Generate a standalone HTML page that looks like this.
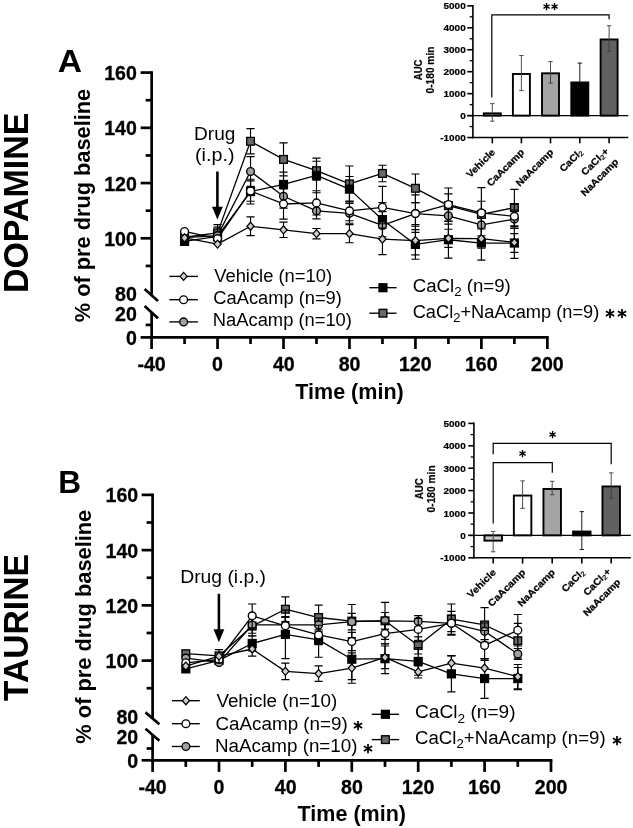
<!DOCTYPE html>
<html lang="en"><head><meta charset="utf-8"><title>Figure: Dopamine and Taurine time course</title>
<style>html,body{margin:0;padding:0;background:#fff}body{width:633px;height:828px;overflow:hidden}svg{display:block}text{font-family:"Liberation Sans", Arial, Helvetica, sans-serif;fill:#000}line{stroke:#000}</style>
</head><body>
<svg width="633" height="828" viewBox="0 0 633 828">
<rect width="633" height="828" fill="#fff"/>
<g id="panelA">
<g stroke="#000" stroke-width="2.7">
<line x1="151.65" y1="71.23" x2="151.65" y2="294.2" stroke-width="2.7"/>
<line x1="151.65" y1="312.4" x2="151.65" y2="338.75" stroke-width="2.7"/>
<line x1="144.6" y1="289" x2="158" y2="301" stroke-width="2.7"/>
<line x1="144.6" y1="306" x2="158" y2="318.2" stroke-width="2.7"/>
<line x1="140.65" y1="72.58" x2="151.65" y2="72.58" stroke-width="2.7"/>
<line x1="140.65" y1="127.82" x2="151.65" y2="127.82" stroke-width="2.7"/>
<line x1="140.65" y1="183.06" x2="151.65" y2="183.06" stroke-width="2.7"/>
<line x1="140.65" y1="238.3" x2="151.65" y2="238.3" stroke-width="2.7"/>
<line x1="145.65" y1="100.2" x2="151.65" y2="100.2" stroke-width="2.7"/>
<line x1="145.65" y1="155.44" x2="151.65" y2="155.44" stroke-width="2.7"/>
<line x1="145.65" y1="210.68" x2="151.65" y2="210.68" stroke-width="2.7"/>
<line x1="145.65" y1="265.92" x2="151.65" y2="265.92" stroke-width="2.7"/>
<line x1="145.65" y1="324.9" x2="151.65" y2="324.9" stroke-width="2.7"/>
<line x1="140.65" y1="337.4" x2="151.65" y2="337.4" stroke-width="2.7"/>
<line x1="150.3" y1="337.4" x2="548.7" y2="337.4" stroke-width="2.7"/>
<line x1="151.59" y1="337.4" x2="151.59" y2="349" stroke-width="2.7"/>
<line x1="217.55" y1="337.4" x2="217.55" y2="349" stroke-width="2.7"/>
<line x1="283.51" y1="337.4" x2="283.51" y2="349" stroke-width="2.7"/>
<line x1="349.47" y1="337.4" x2="349.47" y2="349" stroke-width="2.7"/>
<line x1="415.43" y1="337.4" x2="415.43" y2="349" stroke-width="2.7"/>
<line x1="481.39" y1="337.4" x2="481.39" y2="349" stroke-width="2.7"/>
<line x1="547.35" y1="337.4" x2="547.35" y2="349" stroke-width="2.7"/>
<line x1="184.57" y1="337.4" x2="184.57" y2="344" stroke-width="2.7"/>
<line x1="250.53" y1="337.4" x2="250.53" y2="344" stroke-width="2.7"/>
<line x1="316.49" y1="337.4" x2="316.49" y2="344" stroke-width="2.7"/>
<line x1="382.45" y1="337.4" x2="382.45" y2="344" stroke-width="2.7"/>
<line x1="448.41" y1="337.4" x2="448.41" y2="344" stroke-width="2.7"/>
<line x1="514.37" y1="337.4" x2="514.37" y2="344" stroke-width="2.7"/>
</g>
<text x="104.19" y="80.18" font-size="20.5" font-weight="bold" stroke="#000" stroke-width="0.3" textLength="32.67" lengthAdjust="spacingAndGlyphs">160</text>
<text x="104.19" y="135.42" font-size="20.5" font-weight="bold" stroke="#000" stroke-width="0.3" textLength="32.67" lengthAdjust="spacingAndGlyphs">140</text>
<text x="104.19" y="190.66" font-size="20.5" font-weight="bold" stroke="#000" stroke-width="0.3" textLength="32.67" lengthAdjust="spacingAndGlyphs">120</text>
<text x="104.19" y="245.9" font-size="20.5" font-weight="bold" stroke="#000" stroke-width="0.3" textLength="32.67" lengthAdjust="spacingAndGlyphs">100</text>
<text x="115.05" y="300.6" font-size="20.5" font-weight="bold" stroke="#000" stroke-width="0.3" textLength="21.78" lengthAdjust="spacingAndGlyphs">80</text>
<text x="115.05" y="320.5" font-size="20.5" font-weight="bold" stroke="#000" stroke-width="0.3" textLength="21.78" lengthAdjust="spacingAndGlyphs">20</text>
<text x="125.92" y="344.8" font-size="20.5" font-weight="bold" stroke="#000" stroke-width="0.3" textLength="10.89" lengthAdjust="spacingAndGlyphs">0</text>
<text x="137.45" y="371.2" font-size="20.5" font-weight="bold" stroke="#000" stroke-width="0.3" textLength="28.3" lengthAdjust="spacingAndGlyphs">-40</text>
<text x="212.12" y="371.2" font-size="20.5" font-weight="bold" stroke="#000" stroke-width="0.3" textLength="10.89" lengthAdjust="spacingAndGlyphs">0</text>
<text x="272.89" y="371.2" font-size="20.5" font-weight="bold" stroke="#000" stroke-width="0.3" textLength="21.78" lengthAdjust="spacingAndGlyphs">40</text>
<text x="338.7" y="371.2" font-size="20.5" font-weight="bold" stroke="#000" stroke-width="0.3" textLength="21.78" lengthAdjust="spacingAndGlyphs">80</text>
<text x="398.94" y="371.2" font-size="20.5" font-weight="bold" stroke="#000" stroke-width="0.3" textLength="32.67" lengthAdjust="spacingAndGlyphs">120</text>
<text x="464.9" y="371.2" font-size="20.5" font-weight="bold" stroke="#000" stroke-width="0.3" textLength="32.67" lengthAdjust="spacingAndGlyphs">160</text>
<text x="531.1" y="371.2" font-size="20.5" font-weight="bold" stroke="#000" stroke-width="0.3" textLength="32.67" lengthAdjust="spacingAndGlyphs">200</text>
<text x="295.28" y="399.1" font-size="21.3" font-weight="bold" textLength="108.44" lengthAdjust="spacingAndGlyphs">Time (min)</text>
<text transform="translate(89.9 321.7) rotate(-90)" x="-0.54" y="0" font-size="21.3" font-weight="bold" textLength="233.39" lengthAdjust="spacingAndGlyphs">% of pre drug baseline</text>
<text transform="translate(27.6 290.9) rotate(-90)" x="-2.21" y="0" font-size="34.6" font-weight="bold" textLength="180.4" lengthAdjust="spacingAndGlyphs">DOPAMINE</text>
<text x="57.76" y="72.3" font-size="32" font-weight="bold" textLength="24.25" lengthAdjust="spacingAndGlyphs">A</text>
<g stroke="#000">
<path d="M217.55 224.6V241.1M213.45 224.6h8.2M213.45 241.1h8.2M250.53 128.63V153.93M246.43 128.63h8.2M246.43 153.93h8.2M283.51 142.93V175.93M279.41 142.93h8.2M279.41 175.93h8.2M316.49 161.21V180.19M312.39 161.21h8.2M312.39 180.19h8.2M349.47 166.03V201.78M345.37 166.03h8.2M345.37 201.78h8.2M382.45 165.2V181.7M378.35 165.2h8.2M378.35 181.7h8.2M415.43 174V202.6M411.33 174h8.2M411.33 202.6h8.2M448.41 193.8V217.45M444.31 193.8h8.2M444.31 217.45h8.2M481.39 201.23V227.62M477.29 201.23h8.2M477.29 227.62h8.2M514.37 189.4V225.7M510.27 189.4h8.2M510.27 225.7h8.2" fill="none" stroke-width="1.15"/>
<path d="M184.57 237.25L217.55 232.85L250.53 141.28L283.51 159.43L316.49 170.7L349.47 183.9L382.45 173.45L415.43 188.3L448.41 205.62L481.39 214.43L514.37 207.55" fill="none" stroke-width="1.3" stroke-linejoin="round"/>
<rect x="180.72" y="233.4" width="7.7" height="7.7" fill="#696969" stroke-width="1.35"/>
<rect x="213.7" y="229" width="7.7" height="7.7" fill="#696969" stroke-width="1.35"/>
<rect x="246.68" y="137.43" width="7.7" height="7.7" fill="#696969" stroke-width="1.35"/>
<rect x="279.66" y="155.58" width="7.7" height="7.7" fill="#696969" stroke-width="1.35"/>
<rect x="312.64" y="166.85" width="7.7" height="7.7" fill="#696969" stroke-width="1.35"/>
<rect x="345.62" y="180.05" width="7.7" height="7.7" fill="#696969" stroke-width="1.35"/>
<rect x="378.6" y="169.6" width="7.7" height="7.7" fill="#696969" stroke-width="1.35"/>
<rect x="411.58" y="184.45" width="7.7" height="7.7" fill="#696969" stroke-width="1.35"/>
<rect x="444.56" y="201.78" width="7.7" height="7.7" fill="#696969" stroke-width="1.35"/>
<rect x="477.54" y="210.58" width="7.7" height="7.7" fill="#696969" stroke-width="1.35"/>
<rect x="510.52" y="203.7" width="7.7" height="7.7" fill="#696969" stroke-width="1.35"/>
<path d="M250.53 179.23V203.98M246.43 179.23h8.2M246.43 203.98h8.2M283.51 172.07V196.82M279.41 172.07h8.2M279.41 196.82h8.2M316.49 158.05V192.7M312.39 158.05h8.2M312.39 192.7h8.2M349.47 176.47V201.78M345.37 176.47h8.2M345.37 201.78h8.2M382.45 202.6V236.7M378.35 202.6h8.2M378.35 236.7h8.2M415.43 229.55V259.25M411.33 229.55h8.2M411.33 259.25h8.2M448.41 221.3V258.15M444.31 221.3h8.2M444.31 258.15h8.2M481.39 225.98V260.08M477.29 225.98h8.2M477.29 260.08h8.2M514.37 233.68V252.38M510.27 233.68h8.2M510.27 252.38h8.2" fill="none" stroke-width="1.15"/>
<path d="M184.57 241.38L217.55 236.43L250.53 191.6L283.51 184.45L316.49 175.38L349.47 189.12L382.45 219.65L415.43 244.4L448.41 239.73L481.39 243.03L514.37 243.03" fill="none" stroke-width="1.3" stroke-linejoin="round"/>
<rect x="179.97" y="236.78" width="9.2" height="9.2" fill="#000" stroke="none"/>
<rect x="212.95" y="231.83" width="9.2" height="9.2" fill="#000" stroke="none"/>
<rect x="245.93" y="187" width="9.2" height="9.2" fill="#000" stroke="none"/>
<rect x="278.91" y="179.85" width="9.2" height="9.2" fill="#000" stroke="none"/>
<rect x="311.89" y="170.78" width="9.2" height="9.2" fill="#000" stroke="none"/>
<rect x="344.87" y="184.53" width="9.2" height="9.2" fill="#000" stroke="none"/>
<rect x="377.85" y="215.05" width="9.2" height="9.2" fill="#000" stroke="none"/>
<rect x="410.83" y="239.8" width="9.2" height="9.2" fill="#000" stroke="none"/>
<rect x="443.81" y="235.13" width="9.2" height="9.2" fill="#000" stroke="none"/>
<rect x="476.79" y="238.43" width="9.2" height="9.2" fill="#000" stroke="none"/>
<rect x="509.77" y="238.43" width="9.2" height="9.2" fill="#000" stroke="none"/>
<path d="M217.55 227.08V244.13M213.45 227.08h8.2M213.45 244.13h8.2M250.53 156.68V186.38M246.43 156.68h8.2M246.43 186.38h8.2M283.51 184.45V208.1M279.41 184.45h8.2M279.41 208.1h8.2M316.49 202.88V218.83M312.39 202.88h8.2M312.39 218.83h8.2M349.47 203.42V223.22M345.37 203.42h8.2M345.37 223.22h8.2M382.45 211.68V239.18M378.35 211.68h8.2M378.35 239.18h8.2M415.43 202.6V224.6M411.33 202.6h8.2M411.33 224.6h8.2M448.41 207.55V224.05M444.31 207.55h8.2M444.31 224.05h8.2M481.39 213.88V235.88M477.29 213.88h8.2M477.29 235.88h8.2M514.37 210.03V228.18M510.27 210.03h8.2M510.27 228.18h8.2" fill="none" stroke-width="1.15"/>
<path d="M184.57 237.53L217.55 235.6L250.53 171.53L283.51 196.28L316.49 210.85L349.47 213.32L382.45 225.43L415.43 213.6L448.41 215.8L481.39 224.88L514.37 219.1" fill="none" stroke-width="1.3" stroke-linejoin="round"/>
<circle cx="184.57" cy="237.53" r="3.9" fill="#a0a0a0" stroke-width="1.35"/>
<circle cx="217.55" cy="235.6" r="3.9" fill="#a0a0a0" stroke-width="1.35"/>
<circle cx="250.53" cy="171.53" r="3.9" fill="#a0a0a0" stroke-width="1.35"/>
<circle cx="283.51" cy="196.28" r="3.9" fill="#a0a0a0" stroke-width="1.35"/>
<circle cx="316.49" cy="210.85" r="3.9" fill="#a0a0a0" stroke-width="1.35"/>
<circle cx="349.47" cy="213.32" r="3.9" fill="#a0a0a0" stroke-width="1.35"/>
<circle cx="382.45" cy="225.43" r="3.9" fill="#a0a0a0" stroke-width="1.35"/>
<circle cx="415.43" cy="213.6" r="3.9" fill="#a0a0a0" stroke-width="1.35"/>
<circle cx="448.41" cy="215.8" r="3.9" fill="#a0a0a0" stroke-width="1.35"/>
<circle cx="481.39" cy="224.88" r="3.9" fill="#a0a0a0" stroke-width="1.35"/>
<circle cx="514.37" cy="219.1" r="3.9" fill="#a0a0a0" stroke-width="1.35"/>
<path d="M250.53 180.88V201.23M246.43 180.88h8.2M246.43 201.23h8.2M283.51 188.85V219.1M279.41 188.85h8.2M279.41 219.1h8.2M316.49 190.78V214.97M312.39 190.78h8.2M312.39 214.97h8.2M349.47 200.95V220.75M345.37 200.95h8.2M345.37 220.75h8.2M382.45 186.38V228.18M378.35 186.38h8.2M378.35 228.18h8.2M415.43 194.9V232.3M411.33 194.9h8.2M411.33 232.3h8.2M448.41 188.03V221.03M444.31 188.03h8.2M444.31 221.03h8.2M481.39 187.61V238.21M477.29 187.61h8.2M477.29 238.21h8.2M514.37 204.25V228.45M510.27 204.25h8.2M510.27 228.45h8.2" fill="none" stroke-width="1.15"/>
<path d="M184.57 231.48L217.55 238.62L250.53 191.05L283.51 203.98L316.49 202.88L349.47 210.85L382.45 207.28L415.43 213.6L448.41 204.53L481.39 212.91L514.37 216.35" fill="none" stroke-width="1.3" stroke-linejoin="round"/>
<circle cx="184.57" cy="231.48" r="3.9" fill="#fff" stroke-width="1.35"/>
<circle cx="217.55" cy="238.62" r="3.9" fill="#fff" stroke-width="1.35"/>
<circle cx="250.53" cy="191.05" r="3.9" fill="#fff" stroke-width="1.35"/>
<circle cx="283.51" cy="203.98" r="3.9" fill="#fff" stroke-width="1.35"/>
<circle cx="316.49" cy="202.88" r="3.9" fill="#fff" stroke-width="1.35"/>
<circle cx="349.47" cy="210.85" r="3.9" fill="#fff" stroke-width="1.35"/>
<circle cx="382.45" cy="207.28" r="3.9" fill="#fff" stroke-width="1.35"/>
<circle cx="415.43" cy="213.6" r="3.9" fill="#fff" stroke-width="1.35"/>
<circle cx="448.41" cy="204.53" r="3.9" fill="#fff" stroke-width="1.35"/>
<circle cx="481.39" cy="212.91" r="3.9" fill="#fff" stroke-width="1.35"/>
<circle cx="514.37" cy="216.35" r="3.9" fill="#fff" stroke-width="1.35"/>
<path d="M250.53 216.9V235.6M246.43 216.9h8.2M246.43 235.6h8.2M283.51 222.12V237.52M279.41 222.12h8.2M279.41 237.52h8.2M316.49 228.45V238.9M312.39 228.45h8.2M312.39 238.9h8.2M349.47 224.6V242.75M345.37 224.6h8.2M345.37 242.75h8.2M382.45 223.78V254.58M378.35 223.78h8.2M378.35 254.58h8.2M415.43 226.25V254.85M411.33 226.25h8.2M411.33 254.85h8.2M448.41 229.28V247.43M444.31 229.28h8.2M444.31 247.43h8.2M481.39 229V248.25M477.29 229h8.2M477.29 248.25h8.2M514.37 226.53V258.43M510.27 226.53h8.2M510.27 258.43h8.2" fill="none" stroke-width="1.15"/>
<path d="M184.57 237.8L217.55 244.12L250.53 226.25L283.51 229.82L316.49 233.68L349.47 233.68L382.45 239.18L415.43 240.55L448.41 238.35L481.39 238.62L514.37 242.48" fill="none" stroke-width="1.3" stroke-linejoin="round"/>
<path d="M184.57 233.8L188.12 237.8L184.57 241.8L181.02 237.8Z" fill="#cdcdcd" stroke-width="1.25"/>
<path d="M217.55 240.12L221.1 244.12L217.55 248.12L214 244.12Z" fill="#cdcdcd" stroke-width="1.25"/>
<path d="M250.53 222.25L254.08 226.25L250.53 230.25L246.98 226.25Z" fill="#cdcdcd" stroke-width="1.25"/>
<path d="M283.51 225.82L287.06 229.82L283.51 233.82L279.96 229.82Z" fill="#cdcdcd" stroke-width="1.25"/>
<path d="M316.49 229.68L320.04 233.68L316.49 237.68L312.94 233.68Z" fill="#cdcdcd" stroke-width="1.25"/>
<path d="M349.47 229.68L353.02 233.68L349.47 237.68L345.92 233.68Z" fill="#cdcdcd" stroke-width="1.25"/>
<path d="M382.45 235.18L386 239.18L382.45 243.18L378.9 239.18Z" fill="#cdcdcd" stroke-width="1.25"/>
<path d="M415.43 236.55L418.98 240.55L415.43 244.55L411.88 240.55Z" fill="#cdcdcd" stroke-width="1.25"/>
<path d="M448.41 234.35L451.96 238.35L448.41 242.35L444.86 238.35Z" fill="#cdcdcd" stroke-width="1.25"/>
<path d="M481.39 234.62L484.94 238.62L481.39 242.62L477.84 238.62Z" fill="#cdcdcd" stroke-width="1.25"/>
<path d="M514.37 238.48L517.92 242.48L514.37 246.48L510.82 242.48Z" fill="#cdcdcd" stroke-width="1.25"/>
</g>
<line x1="217.4" y1="171.5" x2="217.4" y2="207.8" stroke-width="2.6"/>
<path d="M212 206.8L222.8 206.8L217.4 219.6Z" fill="#000"/>
<text x="194.08" y="139.5" font-size="18" textLength="41.31" lengthAdjust="spacingAndGlyphs">Drug</text>
<text x="195.02" y="160.8" font-size="18" textLength="39.47" lengthAdjust="spacingAndGlyphs">(i.p.)</text>
<g stroke="#000">
<line x1="169.3" y1="276.4" x2="197.9" y2="276.4" stroke-width="1.35"/>
<path d="M183.6 272.4L187.15 276.4L183.6 280.4L180.05 276.4Z" fill="#cdcdcd" stroke-width="1.25"/>
<line x1="169.3" y1="299.7" x2="197.9" y2="299.7" stroke-width="1.35"/>
<circle cx="183.6" cy="299.7" r="3.9" fill="#fff" stroke-width="1.35"/>
<line x1="169.3" y1="321.9" x2="197.9" y2="321.9" stroke-width="1.35"/>
<circle cx="183.6" cy="321.9" r="3.9" fill="#a0a0a0" stroke-width="1.35"/>
<line x1="369.3" y1="287.7" x2="396.6" y2="287.7" stroke-width="1.35"/>
<rect x="378.35" y="283.1" width="9.2" height="9.2" fill="#000" stroke="none"/>
<line x1="369.3" y1="313.2" x2="396.6" y2="313.2" stroke-width="1.35"/>
<rect x="379.1" y="309.35" width="7.7" height="7.7" fill="#696969" stroke-width="1.35"/>
</g>
<text x="214.21" y="281.7" font-size="18" textLength="117.81" lengthAdjust="spacingAndGlyphs">Vehicle (n=10)</text>
<text x="213.39" y="304" font-size="18" textLength="128.43" lengthAdjust="spacingAndGlyphs">CaAcamp (n=9)</text>
<text x="212.83" y="326.3" font-size="18" textLength="139.11" lengthAdjust="spacingAndGlyphs">NaAcamp (n=10)</text>
<text x="412.67" y="292" font-size="18" textLength="98.15" lengthAdjust="spacingAndGlyphs">CaCl<tspan font-size="12.8" dy="4.2">2</tspan><tspan dy="-4.2"> (n=9)</tspan></text>
<text x="412.69" y="317.8" font-size="18" textLength="186.6" lengthAdjust="spacingAndGlyphs">CaCl<tspan font-size="12.8" dy="4.2">2</tspan><tspan dy="-4.2">+NaAcamp (n=9)</tspan></text>
<text transform="translate(610.05 313.9) scale(0.860 0.838)" x="-7.1" y="5.31" font-size="17" font-weight="bold" font-family='"DejaVu Sans", "Liberation Sans", sans-serif'>∗</text>
<text transform="translate(622.15 313.9) scale(0.860 0.838)" x="-7.1" y="5.31" font-size="17" font-weight="bold" font-family='"DejaVu Sans", "Liberation Sans", sans-serif'>∗</text>
</g>
<g id="insetA">
<g stroke="#000" stroke-width="1.6">
<line x1="472.9" y1="5.05" x2="472.9" y2="138.35" stroke-width="1.6"/>
<line x1="472.1" y1="137.55" x2="628.3" y2="137.55" stroke-width="1.4"/>
<line x1="467.3" y1="137.55" x2="472.9" y2="137.55" stroke-width="1.6"/>
<line x1="467.3" y1="115.6" x2="472.9" y2="115.6" stroke-width="1.6"/>
<line x1="467.3" y1="93.65" x2="472.9" y2="93.65" stroke-width="1.6"/>
<line x1="467.3" y1="71.7" x2="472.9" y2="71.7" stroke-width="1.6"/>
<line x1="467.3" y1="49.75" x2="472.9" y2="49.75" stroke-width="1.6"/>
<line x1="467.3" y1="27.8" x2="472.9" y2="27.8" stroke-width="1.6"/>
<line x1="467.3" y1="5.85" x2="472.9" y2="5.85" stroke-width="1.6"/>
<line x1="469.7" y1="126.57" x2="472.9" y2="126.57" stroke-width="1.3"/>
<line x1="469.7" y1="104.62" x2="472.9" y2="104.62" stroke-width="1.3"/>
<line x1="469.7" y1="82.67" x2="472.9" y2="82.67" stroke-width="1.3"/>
<line x1="469.7" y1="60.72" x2="472.9" y2="60.72" stroke-width="1.3"/>
<line x1="469.7" y1="38.77" x2="472.9" y2="38.77" stroke-width="1.3"/>
<line x1="469.7" y1="16.82" x2="472.9" y2="16.82" stroke-width="1.3"/>
<line x1="492.3" y1="137.55" x2="492.3" y2="143.35" stroke-width="1.6"/>
<line x1="521.4" y1="137.55" x2="521.4" y2="143.35" stroke-width="1.6"/>
<line x1="550.5" y1="137.55" x2="550.5" y2="143.35" stroke-width="1.6"/>
<line x1="579.8" y1="137.55" x2="579.8" y2="143.35" stroke-width="1.6"/>
<line x1="609.1" y1="137.55" x2="609.1" y2="143.35" stroke-width="1.6"/>
</g>
<text x="440.27" y="141.05" font-size="9.3" font-weight="bold" stroke="#000" stroke-width="0.2" textLength="25.45" lengthAdjust="spacingAndGlyphs">-1000</text>
<text x="460.18" y="119.1" font-size="9.3" font-weight="bold" stroke="#000" stroke-width="0.2" textLength="5.53" lengthAdjust="spacingAndGlyphs">0</text>
<text x="443.56" y="97.15" font-size="9.3" font-weight="bold" stroke="#000" stroke-width="0.2" textLength="22.14" lengthAdjust="spacingAndGlyphs">1000</text>
<text x="443.56" y="75.2" font-size="9.3" font-weight="bold" stroke="#000" stroke-width="0.2" textLength="22.14" lengthAdjust="spacingAndGlyphs">2000</text>
<text x="443.56" y="53.25" font-size="9.3" font-weight="bold" stroke="#000" stroke-width="0.2" textLength="22.14" lengthAdjust="spacingAndGlyphs">3000</text>
<text x="443.56" y="31.3" font-size="9.3" font-weight="bold" stroke="#000" stroke-width="0.2" textLength="22.14" lengthAdjust="spacingAndGlyphs">4000</text>
<text x="443.56" y="9.35" font-size="9.3" font-weight="bold" stroke="#000" stroke-width="0.2" textLength="22.14" lengthAdjust="spacingAndGlyphs">5000</text>
<rect x="483.8" y="113.35" width="17" height="2.25" fill="#c8c8c8" stroke="#000" stroke-width="1.9"/>
<rect x="512.9" y="73.97" width="17" height="41.63" fill="#ffffff" stroke="#000" stroke-width="1.9"/>
<rect x="542" y="73.31" width="17" height="42.29" fill="#a4a4a4" stroke="#000" stroke-width="1.9"/>
<rect x="571.3" y="82.46" width="17" height="33.14" fill="#000000" stroke="#000" stroke-width="1.9"/>
<rect x="600.6" y="39.46" width="17" height="76.14" fill="#616161" stroke="#000" stroke-width="1.9"/>
<line x1="467.3" y1="115.6" x2="628.3" y2="115.6" stroke-width="1.4"/>
<path d="M492.3 103.62V121.18M490.1 103.62h4.4M490.1 121.18h4.4" fill="none" stroke="#3c3c3c" stroke-width="0.9"/>
<path d="M521.4 55.46V90.58M519.2 55.46h4.4M519.2 90.58h4.4" fill="none" stroke="#3c3c3c" stroke-width="0.9"/>
<path d="M550.5 61.6V83.11M548.3 61.6h4.4M548.3 83.11h4.4" fill="none" stroke="#3c3c3c" stroke-width="0.9"/>
<path d="M579.8 63.07V99.95M577.6 63.07h4.4M577.6 99.95h4.4" fill="none" stroke="#000" stroke-width="0.9"/>
<path d="M609.1 25.71V51.31M606.9 25.71h4.4M606.9 51.31h4.4" fill="none" stroke="#3c3c3c" stroke-width="0.9"/>
<path d="M491.8 97.6V14.9H609.1V19.2" fill="none" stroke="#000" stroke-width="1.2"/>
<text transform="translate(546.6 6.2) scale(0.633 0.640)" x="-7.1" y="5.31" font-size="17" font-weight="bold" font-family='"DejaVu Sans", "Liberation Sans", sans-serif'>∗</text>
<text transform="translate(554.6 6.2) scale(0.633 0.640)" x="-7.1" y="5.31" font-size="17" font-weight="bold" font-family='"DejaVu Sans", "Liberation Sans", sans-serif'>∗</text>
<text transform="translate(422.4 80) rotate(-90)" x="-0.24" y="0" font-size="10.2" font-weight="bold" stroke="#000" stroke-width="0.2" textLength="20.69" lengthAdjust="spacingAndGlyphs">AUC</text>
<text transform="translate(434.4 93) rotate(-90)" x="-0.41" y="0" font-size="10.2" font-weight="bold" stroke="#000" stroke-width="0.2" textLength="46.8" lengthAdjust="spacingAndGlyphs">0-180 min</text>
<text transform="translate(495.7 152.8) rotate(-45)" x="-36.07" y="0" font-size="9.6" font-weight="bold" stroke="#000" stroke-width="0.25" textLength="36.07" lengthAdjust="spacingAndGlyphs">Vehicle</text>
<text transform="translate(524.8 152.8) rotate(-45)" x="-48.27" y="0" font-size="9.6" font-weight="bold" stroke="#000" stroke-width="0.25" textLength="48.27" lengthAdjust="spacingAndGlyphs">CaAcamp</text>
<text transform="translate(553.9 152.8) rotate(-45)" x="-48.27" y="0" font-size="9.6" font-weight="bold" stroke="#000" stroke-width="0.25" textLength="48.27" lengthAdjust="spacingAndGlyphs">NaAcamp</text>
<text transform="translate(583.2 152.8) rotate(-45)" x="-27.96" y="0" font-size="9.6" font-weight="bold" stroke="#000" stroke-width="0.25" textLength="27.96" lengthAdjust="spacingAndGlyphs">CaCl<tspan font-size="6.8" font-weight="normal" dy="1.5">2</tspan></text>
<text transform="translate(609.2 152) rotate(-45)" x="-34.07" y="0" font-size="9.6" font-weight="bold" stroke="#000" stroke-width="0.25" textLength="34.07" lengthAdjust="spacingAndGlyphs">CaCl<tspan font-size="6.8" font-weight="normal" dy="1.5">2</tspan><tspan dy="-1.5">+</tspan></text>
<text transform="translate(619 162.5) rotate(-45)" x="-48.27" y="0" font-size="9.6" font-weight="bold" stroke="#000" stroke-width="0.25" textLength="48.27" lengthAdjust="spacingAndGlyphs">NaAcamp</text>
</g>
<g id="panelB">
<g stroke="#000" stroke-width="2.7">
<line x1="152.6" y1="493.53" x2="152.6" y2="717.6" stroke-width="2.7"/>
<line x1="152.6" y1="734.6" x2="152.6" y2="761.65" stroke-width="2.7"/>
<line x1="145.5" y1="712.4" x2="159.4" y2="724.2" stroke-width="2.7"/>
<line x1="145.5" y1="728.8" x2="159.4" y2="740.7" stroke-width="2.7"/>
<line x1="141.6" y1="494.88" x2="152.6" y2="494.88" stroke-width="2.7"/>
<line x1="141.6" y1="550.12" x2="152.6" y2="550.12" stroke-width="2.7"/>
<line x1="141.6" y1="605.36" x2="152.6" y2="605.36" stroke-width="2.7"/>
<line x1="141.6" y1="660.6" x2="152.6" y2="660.6" stroke-width="2.7"/>
<line x1="146.6" y1="522.5" x2="152.6" y2="522.5" stroke-width="2.7"/>
<line x1="146.6" y1="577.74" x2="152.6" y2="577.74" stroke-width="2.7"/>
<line x1="146.6" y1="632.98" x2="152.6" y2="632.98" stroke-width="2.7"/>
<line x1="146.6" y1="688.22" x2="152.6" y2="688.22" stroke-width="2.7"/>
<line x1="146.6" y1="748.5" x2="152.6" y2="748.5" stroke-width="2.7"/>
<line x1="141.6" y1="760.3" x2="152.6" y2="760.3" stroke-width="2.7"/>
<line x1="151.25" y1="760.3" x2="552.35" y2="760.3" stroke-width="2.7"/>
<line x1="152.6" y1="760.3" x2="152.6" y2="771.9" stroke-width="2.7"/>
<line x1="219" y1="760.3" x2="219" y2="771.9" stroke-width="2.7"/>
<line x1="285.4" y1="760.3" x2="285.4" y2="771.9" stroke-width="2.7"/>
<line x1="351.8" y1="760.3" x2="351.8" y2="771.9" stroke-width="2.7"/>
<line x1="418.2" y1="760.3" x2="418.2" y2="771.9" stroke-width="2.7"/>
<line x1="484.6" y1="760.3" x2="484.6" y2="771.9" stroke-width="2.7"/>
<line x1="551" y1="760.3" x2="551" y2="771.9" stroke-width="2.7"/>
<line x1="185.8" y1="760.3" x2="185.8" y2="766.9" stroke-width="2.7"/>
<line x1="252.2" y1="760.3" x2="252.2" y2="766.9" stroke-width="2.7"/>
<line x1="318.6" y1="760.3" x2="318.6" y2="766.9" stroke-width="2.7"/>
<line x1="385" y1="760.3" x2="385" y2="766.9" stroke-width="2.7"/>
<line x1="451.4" y1="760.3" x2="451.4" y2="766.9" stroke-width="2.7"/>
<line x1="517.8" y1="760.3" x2="517.8" y2="766.9" stroke-width="2.7"/>
</g>
<text x="105.59" y="502.48" font-size="20.5" font-weight="bold" stroke="#000" stroke-width="0.3" textLength="32.67" lengthAdjust="spacingAndGlyphs">160</text>
<text x="105.59" y="557.72" font-size="20.5" font-weight="bold" stroke="#000" stroke-width="0.3" textLength="32.67" lengthAdjust="spacingAndGlyphs">140</text>
<text x="105.59" y="612.96" font-size="20.5" font-weight="bold" stroke="#000" stroke-width="0.3" textLength="32.67" lengthAdjust="spacingAndGlyphs">120</text>
<text x="105.59" y="668.2" font-size="20.5" font-weight="bold" stroke="#000" stroke-width="0.3" textLength="32.67" lengthAdjust="spacingAndGlyphs">100</text>
<text x="116.45" y="723.8" font-size="20.5" font-weight="bold" stroke="#000" stroke-width="0.3" textLength="21.78" lengthAdjust="spacingAndGlyphs">80</text>
<text x="116.45" y="743.7" font-size="20.5" font-weight="bold" stroke="#000" stroke-width="0.3" textLength="21.78" lengthAdjust="spacingAndGlyphs">20</text>
<text x="127.32" y="767.8" font-size="20.5" font-weight="bold" stroke="#000" stroke-width="0.3" textLength="10.89" lengthAdjust="spacingAndGlyphs">0</text>
<text x="138.46" y="794.1" font-size="20.5" font-weight="bold" stroke="#000" stroke-width="0.3" textLength="28.3" lengthAdjust="spacingAndGlyphs">-40</text>
<text x="213.57" y="794.1" font-size="20.5" font-weight="bold" stroke="#000" stroke-width="0.3" textLength="10.89" lengthAdjust="spacingAndGlyphs">0</text>
<text x="274.78" y="794.1" font-size="20.5" font-weight="bold" stroke="#000" stroke-width="0.3" textLength="21.78" lengthAdjust="spacingAndGlyphs">40</text>
<text x="341.03" y="794.1" font-size="20.5" font-weight="bold" stroke="#000" stroke-width="0.3" textLength="21.78" lengthAdjust="spacingAndGlyphs">80</text>
<text x="401.71" y="794.1" font-size="20.5" font-weight="bold" stroke="#000" stroke-width="0.3" textLength="32.67" lengthAdjust="spacingAndGlyphs">120</text>
<text x="468.11" y="794.1" font-size="20.5" font-weight="bold" stroke="#000" stroke-width="0.3" textLength="32.67" lengthAdjust="spacingAndGlyphs">160</text>
<text x="534.75" y="794.1" font-size="20.5" font-weight="bold" stroke="#000" stroke-width="0.3" textLength="32.67" lengthAdjust="spacingAndGlyphs">200</text>
<text x="297.58" y="821.1" font-size="21.3" font-weight="bold" textLength="108.44" lengthAdjust="spacingAndGlyphs">Time (min)</text>
<text transform="translate(90.9 743.1) rotate(-90)" x="-0.55" y="0" font-size="21.3" font-weight="bold" textLength="233.89" lengthAdjust="spacingAndGlyphs">% of pre drug baseline</text>
<text transform="translate(28.1 700.8) rotate(-90)" x="-0.34" y="0" font-size="34.6" font-weight="bold" textLength="147.12" lengthAdjust="spacingAndGlyphs">TAURINE</text>
<text x="58.14" y="493.4" font-size="32" font-weight="bold" textLength="22.85" lengthAdjust="spacingAndGlyphs">B</text>
<g stroke="#000">
<path d="M252.2 616.41V635.74M248.1 616.41h8.2M248.1 635.74h8.2M285.4 596.8V621.66M281.3 596.8h8.2M281.3 621.66h8.2M318.6 605.08V629.94M314.5 605.08h8.2M314.5 629.94h8.2M351.8 604.53V637.68M347.7 604.53h8.2M347.7 637.68h8.2M385 602.32V639.33M380.9 602.32h8.2M380.9 639.33h8.2M418.2 636.85V653.97M414.1 636.85h8.2M414.1 653.97h8.2M451.4 603.98V634.36M447.3 603.98h8.2M447.3 634.36h8.2M484.6 607.57V642.37M480.5 607.57h8.2M480.5 642.37h8.2M517.8 623.31V658.11M513.7 623.31h8.2M513.7 658.11h8.2" fill="none" stroke-width="1.15"/>
<path d="M185.8 653.7L219 655.9L252.2 626.08L285.4 609.23L318.6 617.51L351.8 621.1L385 620.83L418.2 645.41L451.4 619.17L484.6 624.97L517.8 640.71" fill="none" stroke-width="1.3" stroke-linejoin="round"/>
<rect x="181.95" y="649.85" width="7.7" height="7.7" fill="#696969" stroke-width="1.35"/>
<rect x="215.15" y="652.05" width="7.7" height="7.7" fill="#696969" stroke-width="1.35"/>
<rect x="248.35" y="622.23" width="7.7" height="7.7" fill="#696969" stroke-width="1.35"/>
<rect x="281.55" y="605.38" width="7.7" height="7.7" fill="#696969" stroke-width="1.35"/>
<rect x="314.75" y="613.66" width="7.7" height="7.7" fill="#696969" stroke-width="1.35"/>
<rect x="347.95" y="617.25" width="7.7" height="7.7" fill="#696969" stroke-width="1.35"/>
<rect x="381.15" y="616.98" width="7.7" height="7.7" fill="#696969" stroke-width="1.35"/>
<rect x="414.35" y="641.56" width="7.7" height="7.7" fill="#696969" stroke-width="1.35"/>
<rect x="447.55" y="615.32" width="7.7" height="7.7" fill="#696969" stroke-width="1.35"/>
<rect x="480.75" y="621.12" width="7.7" height="7.7" fill="#696969" stroke-width="1.35"/>
<rect x="513.95" y="636.86" width="7.7" height="7.7" fill="#696969" stroke-width="1.35"/>
<path d="M252.2 636.02V650.93M248.1 636.02h8.2M248.1 650.93h8.2M285.4 610.06V658.67M281.3 610.06h8.2M281.3 658.67h8.2M318.6 622.48V657.29M314.5 622.48h8.2M314.5 657.29h8.2M351.8 638.78V679.66M347.7 638.78h8.2M347.7 679.66h8.2M385 643.75V673.58M380.9 643.75h8.2M380.9 673.58h8.2M418.2 647.62V675.24M414.1 647.62h8.2M414.1 675.24h8.2M451.4 655.9V691.81M447.3 655.9h8.2M447.3 691.81h8.2M484.6 658.67V698.44M480.5 658.67h8.2M480.5 698.44h8.2M517.8 667.5V689.6M513.7 667.5h8.2M513.7 689.6h8.2" fill="none" stroke-width="1.15"/>
<path d="M185.8 668.89L219 660.32L252.2 643.48L285.4 634.36L318.6 639.88L351.8 659.22L385 658.67L418.2 661.43L451.4 673.86L484.6 678.55L517.8 678.55" fill="none" stroke-width="1.3" stroke-linejoin="round"/>
<rect x="181.2" y="664.29" width="9.2" height="9.2" fill="#000" stroke="none"/>
<rect x="214.4" y="655.72" width="9.2" height="9.2" fill="#000" stroke="none"/>
<rect x="247.6" y="638.88" width="9.2" height="9.2" fill="#000" stroke="none"/>
<rect x="280.8" y="629.76" width="9.2" height="9.2" fill="#000" stroke="none"/>
<rect x="314" y="635.28" width="9.2" height="9.2" fill="#000" stroke="none"/>
<rect x="347.2" y="654.62" width="9.2" height="9.2" fill="#000" stroke="none"/>
<rect x="380.4" y="654.07" width="9.2" height="9.2" fill="#000" stroke="none"/>
<rect x="413.6" y="656.83" width="9.2" height="9.2" fill="#000" stroke="none"/>
<rect x="446.8" y="669.26" width="9.2" height="9.2" fill="#000" stroke="none"/>
<rect x="480" y="673.95" width="9.2" height="9.2" fill="#000" stroke="none"/>
<rect x="513.2" y="673.95" width="9.2" height="9.2" fill="#000" stroke="none"/>
<path d="M252.2 616.68V633.26M248.1 616.68h8.2M248.1 633.26h8.2M285.4 616.68V633.26M281.3 616.68h8.2M281.3 633.26h8.2M318.6 618.07V631.88M314.5 618.07h8.2M314.5 631.88h8.2M351.8 613.37V629.94M347.7 613.37h8.2M347.7 629.94h8.2M385 612.54V629.11M380.9 612.54h8.2M380.9 629.11h8.2M418.2 615.58V627.18M414.1 615.58h8.2M414.1 627.18h8.2M451.4 615.03V631.6M447.3 615.03h8.2M447.3 631.6h8.2M484.6 623.04V639.61M480.5 623.04h8.2M480.5 639.61h8.2M517.8 648.45V659.5M513.7 648.45h8.2M513.7 659.5h8.2" fill="none" stroke-width="1.15"/>
<path d="M185.8 658.11L219 662.4L252.2 624.97L285.4 624.97L318.6 624.97L351.8 621.66L385 620.83L418.2 621.38L451.4 623.31L484.6 631.32L517.8 653.97" fill="none" stroke-width="1.3" stroke-linejoin="round"/>
<circle cx="185.8" cy="658.11" r="3.9" fill="#a0a0a0" stroke-width="1.35"/>
<circle cx="219" cy="662.4" r="3.9" fill="#a0a0a0" stroke-width="1.35"/>
<circle cx="252.2" cy="624.97" r="3.9" fill="#a0a0a0" stroke-width="1.35"/>
<circle cx="285.4" cy="624.97" r="3.9" fill="#a0a0a0" stroke-width="1.35"/>
<circle cx="318.6" cy="624.97" r="3.9" fill="#a0a0a0" stroke-width="1.35"/>
<circle cx="351.8" cy="621.66" r="3.9" fill="#a0a0a0" stroke-width="1.35"/>
<circle cx="385" cy="620.83" r="3.9" fill="#a0a0a0" stroke-width="1.35"/>
<circle cx="418.2" cy="621.38" r="3.9" fill="#a0a0a0" stroke-width="1.35"/>
<circle cx="451.4" cy="623.31" r="3.9" fill="#a0a0a0" stroke-width="1.35"/>
<circle cx="484.6" cy="631.32" r="3.9" fill="#a0a0a0" stroke-width="1.35"/>
<circle cx="517.8" cy="653.97" r="3.9" fill="#a0a0a0" stroke-width="1.35"/>
<path d="M252.2 603.98V627.73M248.1 603.98h8.2M248.1 627.73h8.2M285.4 617.51V634.08M281.3 617.51h8.2M281.3 634.08h8.2M318.6 625.25V644.58M314.5 625.25h8.2M314.5 644.58h8.2M351.8 632.43V650.66M347.7 632.43h8.2M347.7 650.66h8.2M385 623.04V644.03M380.9 623.04h8.2M380.9 644.03h8.2M418.2 618.34V640.44M414.1 618.34h8.2M414.1 640.44h8.2M451.4 611.44V635.19M447.3 611.44h8.2M447.3 635.19h8.2M484.6 630.49V660.32M480.5 630.49h8.2M480.5 660.32h8.2M517.8 614.47V645.96M513.7 614.47h8.2M513.7 645.96h8.2" fill="none" stroke-width="1.15"/>
<path d="M185.8 662.81L219 659.5L252.2 615.86L285.4 625.8L318.6 634.91L351.8 641.54L385 633.53L418.2 629.39L451.4 623.31L484.6 645.41L517.8 630.22" fill="none" stroke-width="1.3" stroke-linejoin="round"/>
<circle cx="185.8" cy="662.81" r="3.9" fill="#fff" stroke-width="1.35"/>
<circle cx="219" cy="659.5" r="3.9" fill="#fff" stroke-width="1.35"/>
<circle cx="252.2" cy="615.86" r="3.9" fill="#fff" stroke-width="1.35"/>
<circle cx="285.4" cy="625.8" r="3.9" fill="#fff" stroke-width="1.35"/>
<circle cx="318.6" cy="634.91" r="3.9" fill="#fff" stroke-width="1.35"/>
<circle cx="351.8" cy="641.54" r="3.9" fill="#fff" stroke-width="1.35"/>
<circle cx="385" cy="633.53" r="3.9" fill="#fff" stroke-width="1.35"/>
<circle cx="418.2" cy="629.39" r="3.9" fill="#fff" stroke-width="1.35"/>
<circle cx="451.4" cy="623.31" r="3.9" fill="#fff" stroke-width="1.35"/>
<circle cx="484.6" cy="645.41" r="3.9" fill="#fff" stroke-width="1.35"/>
<circle cx="517.8" cy="630.22" r="3.9" fill="#fff" stroke-width="1.35"/>
<path d="M219 649.55V662.81M214.9 649.55h8.2M214.9 662.81h8.2M252.2 641.82V656.18M248.1 641.82h8.2M248.1 656.18h8.2M285.4 663.09V679.66M281.3 663.09h8.2M281.3 679.66h8.2M318.6 665.85V681.32M314.5 665.85h8.2M314.5 681.32h8.2M351.8 652.87V683.25M347.7 652.87h8.2M347.7 683.25h8.2M385 645.96V668.61M380.9 645.96h8.2M380.9 668.61h8.2M418.2 665.85V678M414.1 665.85h8.2M414.1 678h8.2M451.4 655.63V670.54M447.3 655.63h8.2M447.3 670.54h8.2M484.6 658.94V677.17M480.5 658.94h8.2M480.5 677.17h8.2M517.8 664.47V688.77M513.7 664.47h8.2M513.7 688.77h8.2" fill="none" stroke-width="1.15"/>
<path d="M185.8 666.12L219 656.18L252.2 649L285.4 671.37L318.6 673.58L351.8 668.06L385 657.29L418.2 671.92L451.4 663.09L484.6 668.06L517.8 676.62" fill="none" stroke-width="1.3" stroke-linejoin="round"/>
<path d="M185.8 662.12L189.35 666.12L185.8 670.12L182.25 666.12Z" fill="#cdcdcd" stroke-width="1.25"/>
<path d="M219 652.18L222.55 656.18L219 660.18L215.45 656.18Z" fill="#cdcdcd" stroke-width="1.25"/>
<path d="M252.2 645L255.75 649L252.2 653L248.65 649Z" fill="#cdcdcd" stroke-width="1.25"/>
<path d="M285.4 667.37L288.95 671.37L285.4 675.37L281.85 671.37Z" fill="#cdcdcd" stroke-width="1.25"/>
<path d="M318.6 669.58L322.15 673.58L318.6 677.58L315.05 673.58Z" fill="#cdcdcd" stroke-width="1.25"/>
<path d="M351.8 664.06L355.35 668.06L351.8 672.06L348.25 668.06Z" fill="#cdcdcd" stroke-width="1.25"/>
<path d="M385 653.29L388.55 657.29L385 661.29L381.45 657.29Z" fill="#cdcdcd" stroke-width="1.25"/>
<path d="M418.2 667.92L421.75 671.92L418.2 675.92L414.65 671.92Z" fill="#cdcdcd" stroke-width="1.25"/>
<path d="M451.4 659.09L454.95 663.09L451.4 667.09L447.85 663.09Z" fill="#cdcdcd" stroke-width="1.25"/>
<path d="M484.6 664.06L488.15 668.06L484.6 672.06L481.05 668.06Z" fill="#cdcdcd" stroke-width="1.25"/>
<path d="M517.8 672.62L521.35 676.62L517.8 680.62L514.25 676.62Z" fill="#cdcdcd" stroke-width="1.25"/>
</g>
<line x1="218.9" y1="593.8" x2="218.9" y2="630.2" stroke-width="2.6"/>
<path d="M213.5 629.2L224.3 629.2L218.9 642.2Z" fill="#000"/>
<text x="180.2" y="582.7" font-size="18" textLength="85.86" lengthAdjust="spacingAndGlyphs">Drug (i.p.)</text>
<g stroke="#000">
<line x1="172" y1="700.7" x2="199.8" y2="700.7" stroke-width="1.35"/>
<path d="M185.9 696.7L189.45 700.7L185.9 704.7L182.35 700.7Z" fill="#cdcdcd" stroke-width="1.25"/>
<line x1="172" y1="723.7" x2="199.8" y2="723.7" stroke-width="1.35"/>
<circle cx="185.9" cy="723.7" r="3.9" fill="#fff" stroke-width="1.35"/>
<line x1="172" y1="746.5" x2="199.8" y2="746.5" stroke-width="1.35"/>
<circle cx="185.9" cy="746.5" r="3.9" fill="#a0a0a0" stroke-width="1.35"/>
<line x1="371.7" y1="714.3" x2="399.1" y2="714.3" stroke-width="1.35"/>
<rect x="380.8" y="709.7" width="9.2" height="9.2" fill="#000" stroke="none"/>
<line x1="371.7" y1="739.6" x2="399.1" y2="739.6" stroke-width="1.35"/>
<rect x="381.55" y="735.75" width="7.7" height="7.7" fill="#696969" stroke-width="1.35"/>
</g>
<text x="216.41" y="707.1" font-size="18" textLength="120.74" lengthAdjust="spacingAndGlyphs">Vehicle (n=10)</text>
<text x="215.56" y="729.9" font-size="18" textLength="132.19" lengthAdjust="spacingAndGlyphs">CaAcamp (n=9)</text>
<text x="215" y="752" font-size="18" textLength="142.47" lengthAdjust="spacingAndGlyphs">NaAcamp (n=10)</text>
<text x="415.04" y="718.4" font-size="18" textLength="100.5" lengthAdjust="spacingAndGlyphs">CaCl<tspan font-size="12.8" dy="4.2">2</tspan><tspan dy="-4.2"> (n=9)</tspan></text>
<text x="415.07" y="743.5" font-size="18" textLength="190.54" lengthAdjust="spacingAndGlyphs">CaCl<tspan font-size="12.8" dy="4.2">2</tspan><tspan dy="-4.2">+NaAcamp (n=9)</tspan></text>
<text transform="translate(358.3 725.8) scale(0.860 0.838)" x="-7.1" y="5.31" font-size="17" font-weight="bold" font-family='"DejaVu Sans", "Liberation Sans", sans-serif'>∗</text>
<text transform="translate(367.8 748.2) scale(0.860 0.838)" x="-7.1" y="5.31" font-size="17" font-weight="bold" font-family='"DejaVu Sans", "Liberation Sans", sans-serif'>∗</text>
<text transform="translate(616.7 740.4) scale(0.860 0.838)" x="-7.1" y="5.31" font-size="17" font-weight="bold" font-family='"DejaVu Sans", "Liberation Sans", sans-serif'>∗</text>
</g>
<g id="insetB">
<g stroke="#000" stroke-width="1.6">
<line x1="473.9" y1="422.6" x2="473.9" y2="558.6" stroke-width="1.6"/>
<line x1="473.1" y1="557.8" x2="630.8" y2="557.8" stroke-width="1.4"/>
<line x1="468.3" y1="557.8" x2="473.9" y2="557.8" stroke-width="1.6"/>
<line x1="468.3" y1="535.4" x2="473.9" y2="535.4" stroke-width="1.6"/>
<line x1="468.3" y1="513" x2="473.9" y2="513" stroke-width="1.6"/>
<line x1="468.3" y1="490.6" x2="473.9" y2="490.6" stroke-width="1.6"/>
<line x1="468.3" y1="468.2" x2="473.9" y2="468.2" stroke-width="1.6"/>
<line x1="468.3" y1="445.8" x2="473.9" y2="445.8" stroke-width="1.6"/>
<line x1="468.3" y1="423.4" x2="473.9" y2="423.4" stroke-width="1.6"/>
<line x1="470.7" y1="546.6" x2="473.9" y2="546.6" stroke-width="1.3"/>
<line x1="470.7" y1="524.2" x2="473.9" y2="524.2" stroke-width="1.3"/>
<line x1="470.7" y1="501.8" x2="473.9" y2="501.8" stroke-width="1.3"/>
<line x1="470.7" y1="479.4" x2="473.9" y2="479.4" stroke-width="1.3"/>
<line x1="470.7" y1="457" x2="473.9" y2="457" stroke-width="1.3"/>
<line x1="470.7" y1="434.6" x2="473.9" y2="434.6" stroke-width="1.3"/>
<line x1="493.2" y1="557.8" x2="493.2" y2="563.6" stroke-width="1.6"/>
<line x1="522.6" y1="557.8" x2="522.6" y2="563.6" stroke-width="1.6"/>
<line x1="552.2" y1="557.8" x2="552.2" y2="563.6" stroke-width="1.6"/>
<line x1="581.8" y1="557.8" x2="581.8" y2="563.6" stroke-width="1.6"/>
<line x1="611.2" y1="557.8" x2="611.2" y2="563.6" stroke-width="1.6"/>
</g>
<text x="440.27" y="561.3" font-size="9.3" font-weight="bold" stroke="#000" stroke-width="0.2" textLength="25.45" lengthAdjust="spacingAndGlyphs">-1000</text>
<text x="460.18" y="538.9" font-size="9.3" font-weight="bold" stroke="#000" stroke-width="0.2" textLength="5.53" lengthAdjust="spacingAndGlyphs">0</text>
<text x="443.56" y="516.5" font-size="9.3" font-weight="bold" stroke="#000" stroke-width="0.2" textLength="22.14" lengthAdjust="spacingAndGlyphs">1000</text>
<text x="443.56" y="494.1" font-size="9.3" font-weight="bold" stroke="#000" stroke-width="0.2" textLength="22.14" lengthAdjust="spacingAndGlyphs">2000</text>
<text x="443.56" y="471.7" font-size="9.3" font-weight="bold" stroke="#000" stroke-width="0.2" textLength="22.14" lengthAdjust="spacingAndGlyphs">3000</text>
<text x="443.56" y="449.3" font-size="9.3" font-weight="bold" stroke="#000" stroke-width="0.2" textLength="22.14" lengthAdjust="spacingAndGlyphs">4000</text>
<text x="443.56" y="426.9" font-size="9.3" font-weight="bold" stroke="#000" stroke-width="0.2" textLength="22.14" lengthAdjust="spacingAndGlyphs">5000</text>
<rect x="484.45" y="535.4" width="17.5" height="5.25" fill="#c8c8c8" stroke="#000" stroke-width="1.9"/>
<rect x="513.85" y="495.56" width="17.5" height="39.84" fill="#ffffff" stroke="#000" stroke-width="1.9"/>
<rect x="543.45" y="488.95" width="17.5" height="46.45" fill="#a4a4a4" stroke="#000" stroke-width="1.9"/>
<rect x="573.05" y="531.53" width="17.5" height="3.87" fill="#000000" stroke="#000" stroke-width="1.9"/>
<rect x="602.45" y="486.44" width="17.5" height="48.96" fill="#616161" stroke="#000" stroke-width="1.9"/>
<line x1="468.3" y1="535.4" x2="630.8" y2="535.4" stroke-width="1.4"/>
<path d="M493.2 531.41V551.8M491 531.41h4.4M491 551.8h4.4" fill="none" stroke="#3c3c3c" stroke-width="0.9"/>
<path d="M522.6 480.86V508.36M520.4 480.86h4.4M520.4 508.36h4.4" fill="none" stroke="#3c3c3c" stroke-width="0.9"/>
<path d="M552.2 481.28V494.72M550 481.28h4.4M550 494.72h4.4" fill="none" stroke="#3c3c3c" stroke-width="0.9"/>
<path d="M581.8 511.63V549.53M579.6 511.63h4.4M579.6 549.53h4.4" fill="none" stroke="#000" stroke-width="0.9"/>
<path d="M611.2 472.88V498.1M609 472.88h4.4M609 498.1h4.4" fill="none" stroke="#3c3c3c" stroke-width="0.9"/>
<path d="M493.2 454.2V443.3H611.2V464.3" fill="none" stroke="#000" stroke-width="1.2"/>
<path d="M493.2 523.4V462.7H552.3V472.8" fill="none" stroke="#000" stroke-width="1.2"/>
<text transform="translate(552.2 434.3) scale(0.633 0.640)" x="-7.1" y="5.31" font-size="17" font-weight="bold" font-family='"DejaVu Sans", "Liberation Sans", sans-serif'>∗</text>
<text transform="translate(522.9 453.8) scale(0.633 0.640)" x="-7.1" y="5.31" font-size="17" font-weight="bold" font-family='"DejaVu Sans", "Liberation Sans", sans-serif'>∗</text>
<text transform="translate(423.1 499.1) rotate(-90)" x="-0.24" y="0" font-size="10.2" font-weight="bold" stroke="#000" stroke-width="0.2" textLength="21.1" lengthAdjust="spacingAndGlyphs">AUC</text>
<text transform="translate(435.1 512) rotate(-90)" x="-0.41" y="0" font-size="10.2" font-weight="bold" stroke="#000" stroke-width="0.2" textLength="47.1" lengthAdjust="spacingAndGlyphs">0-180 min</text>
<text transform="translate(496.6 573) rotate(-45)" x="-36.07" y="0" font-size="9.6" font-weight="bold" stroke="#000" stroke-width="0.25" textLength="36.07" lengthAdjust="spacingAndGlyphs">Vehicle</text>
<text transform="translate(526 573) rotate(-45)" x="-48.27" y="0" font-size="9.6" font-weight="bold" stroke="#000" stroke-width="0.25" textLength="48.27" lengthAdjust="spacingAndGlyphs">CaAcamp</text>
<text transform="translate(555.6 573) rotate(-45)" x="-48.27" y="0" font-size="9.6" font-weight="bold" stroke="#000" stroke-width="0.25" textLength="48.27" lengthAdjust="spacingAndGlyphs">NaAcamp</text>
<text transform="translate(585.2 573) rotate(-45)" x="-27.96" y="0" font-size="9.6" font-weight="bold" stroke="#000" stroke-width="0.25" textLength="27.96" lengthAdjust="spacingAndGlyphs">CaCl<tspan font-size="6.8" font-weight="normal" dy="1.5">2</tspan></text>
<text transform="translate(611.3 572.2) rotate(-45)" x="-34.07" y="0" font-size="9.6" font-weight="bold" stroke="#000" stroke-width="0.25" textLength="34.07" lengthAdjust="spacingAndGlyphs">CaCl<tspan font-size="6.8" font-weight="normal" dy="1.5">2</tspan><tspan dy="-1.5">+</tspan></text>
<text transform="translate(621.1 582.7) rotate(-45)" x="-48.27" y="0" font-size="9.6" font-weight="bold" stroke="#000" stroke-width="0.25" textLength="48.27" lengthAdjust="spacingAndGlyphs">NaAcamp</text>
</g>
</svg></body></html>
